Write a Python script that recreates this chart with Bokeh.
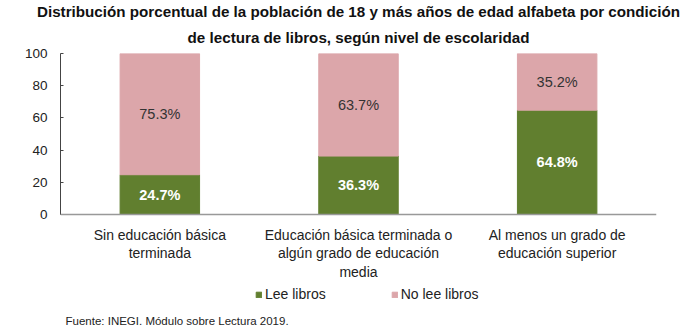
from bokeh.plotting import figure
from bokeh.models import ColumnDataSource, Legend, LegendItem, Title, FactorRange, Span
from bokeh.core.properties import value
from bokeh.embed import file_html
from bokeh.resources import INLINE

title_lines = ["Distribución porcentual de la población de 18 y más años de edad alfabeta por condición",
               "de lectura de libros, según nivel de escolaridad"]
categories = ["Sin educación básica\nterminada",
              "Educación básica terminada o\nalgún grado de educación\nmedia",
              "Al menos un grado de\neducación superior"]
lee = [24.7, 36.3, 64.8]
no_lee = [75.3, 63.7, 35.2]
series_names = ["Lee libros", "No lee libros"]
y_ticks = [0, 20, 40, 60, 80, 100]
source_note = "Fuente: INEGI. Módulo sobre Lectura 2019."

GREEN = "#617f2f"
PINK = "#dca6aa"
FONT = "Liberation Sans"

# layout (pixels): plot area for the bars is 161 px tall; room below it holds
# the category labels and the legend
BAR_PX = 161
BELOW_PX = 96
PX_PER_UNIT = BAR_PX / 100.0
y_start = -BELOW_PX / PX_PER_UNIT
cat_label_y = -12 / PX_PER_UNIT

src = ColumnDataSource(dict(
    cat=categories,
    lee=lee,
    no_lee=no_lee,
    total=[a + b for a, b in zip(lee, no_lee)],
    lee_mid=[v / 2 for v in lee],
    no_mid=[a + b / 2 for a, b in zip(lee, no_lee)],
    lee_txt=[f"{v:.1f}%" for v in lee],
    no_txt=[f"{v:.1f}%" for v in no_lee],
    lab_y=[cat_label_y] * len(categories),
))

p = figure(frame_width=596, frame_height=BAR_PX + BELOW_PX, x_range=FactorRange(*categories),
           y_range=(y_start, 100), output_backend="svg", toolbar_location=None,
           min_border_left=60, min_border_right=44, min_border_top=0, min_border_bottom=0)
p.title.text = title_lines[0]
p.title.align = "center"
p.title.text_font = FONT
p.title.text_font_size = "15.2px"
p.title.text_font_style = "bold"
p.title.text_color = "#111111"
p.title.offset = 0
p.title.standoff = 0
p.add_layout(Title(text=title_lines[1], align="center", text_font=FONT,
                   text_font_size="15.2px", text_font_style="bold",
                   text_color="#111111", standoff=15), "above")

r1 = p.vbar(x="cat", top="lee", bottom=0, width=0.4, color=GREEN, source=src)
r2 = p.vbar(x="cat", top="total", bottom="lee", width=0.4, color=PINK, source=src)

p.text(x="cat", y="lee_mid", text="lee_txt", source=src, text_align="center",
       text_baseline="middle", text_color="white", text_font=value(FONT),
       text_font_size="14.5px", text_font_style="bold")
p.text(x="cat", y="no_mid", text="no_txt", source=src, text_align="center",
       text_baseline="middle", text_color="#333333", text_font=value(FONT),
       text_font_size="14.5px")

# category labels under the baseline
p.text(x="cat", y="lab_y", text="cat", source=src, text_align="center",
       text_baseline="top", text_color="#222222", text_font=value(FONT),
       text_font_size="14px", text_line_height=1.18)

# baseline (x axis line)
p.add_layout(Span(location=0, dimension="width", line_color="#999999", line_width=1.5))

p.xaxis.visible = False
p.xgrid.visible = False
p.ygrid.visible = False
p.outline_line_color = None

p.yaxis.ticker = y_ticks
p.yaxis.bounds = (0, 100)
p.yaxis.major_label_text_font = FONT
p.yaxis.major_label_text_font_size = "13.5px"
p.yaxis.major_label_text_color = "#222222"
p.yaxis.axis_line_color = "#444444"
p.yaxis.major_tick_line_color = "#444444"
p.yaxis.major_tick_in = 3
p.yaxis.major_tick_out = 0
p.yaxis.minor_tick_line_color = None
p.yaxis.major_label_standoff = 13

legend = Legend(items=[LegendItem(label=series_names[0], renderers=[r1]),
                       LegendItem(label=series_names[1], renderers=[r2])],
                orientation="horizontal", location=(195, 8),
                label_text_font=FONT, label_text_font_size="14px", label_text_color="#222222",
                glyph_width=7, glyph_height=7, spacing=65, label_standoff=3,
                label_height=16, border_line_color=None, background_fill_alpha=0,
                margin=0, padding=0)
p.add_layout(legend, "center")
p.add_layout(Title(text=source_note, align="left",
                   text_font=FONT, text_font_size="11.5px", text_font_style="normal",
                   text_color="#222222", offset=5, standoff=4), "below")

open("out.html", "w").write(file_html(p, INLINE))
